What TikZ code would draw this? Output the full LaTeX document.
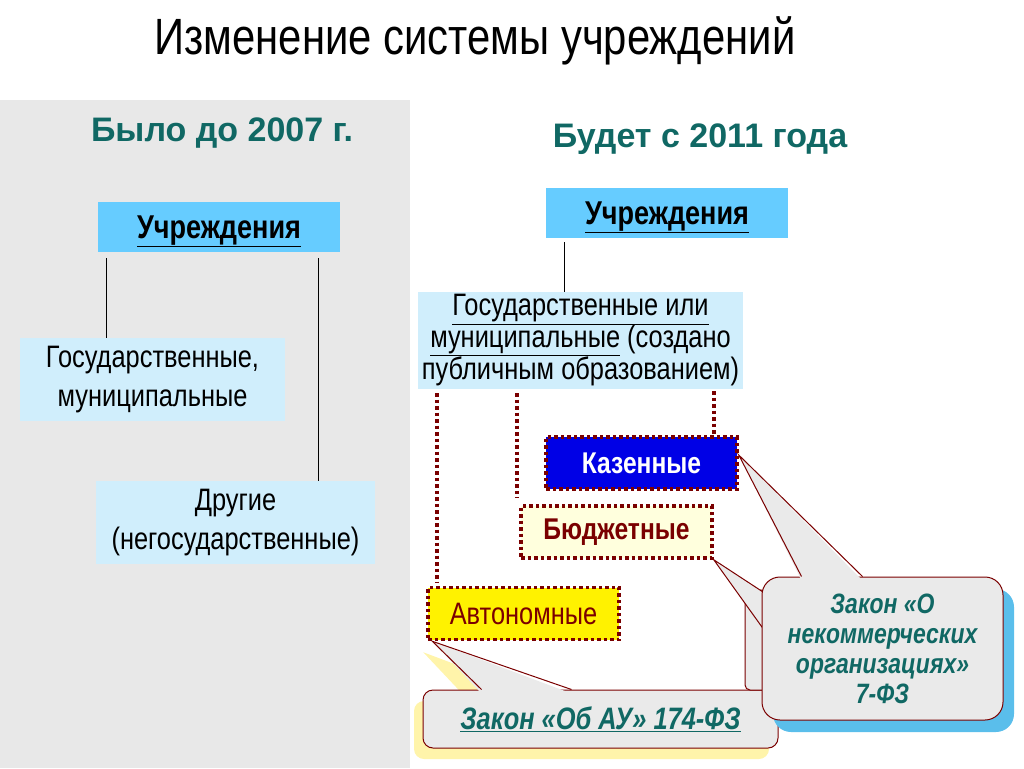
\documentclass[tikz,border=0pt]{standalone}
\usepackage{fontspec}
\setmainfont{Liberation Sans}
\newfontfamily\narrowsans{Liberation Sans}[FakeStretch=0.82]
\usetikzlibrary{positioning,shadows,calc}
\pgfdeclarelayer{background}
\pgfsetlayers{background,main}

\definecolor{panelgray}{RGB}{232,232,232}
\definecolor{headblue}{RGB}{102,204,255}
\definecolor{boxblue}{RGB}{208,238,252}
\definecolor{maroon}{RGB}{122,0,0}
\definecolor{tealtext}{RGB}{16,104,100}
\definecolor{calloutgray}{RGB}{234,234,234}
\definecolor{shadowyellow}{RGB}{255,244,170}
\definecolor{shadowblue}{RGB}{90,190,235}
\definecolor{kazblue}{RGB}{0,0,230}
\definecolor{budcream}{RGB}{255,255,221}

\tikzset{
  headbox/.style={fill=headblue, minimum width=242pt, minimum height=50pt, inner sep=0pt, text depth=0pt,
    font=\narrowsans\bfseries\fontsize{33}{38}\selectfont},
  kindbox/.style={fill=boxblue, inner sep=0pt, align=center,
    font=\narrowsans\fontsize{31}{39}\selectfont},
  typebox/.style={draw=maroon, line width=3.5pt, dash pattern=on 3.5pt off 3pt,
    minimum width=191pt, minimum height=52pt, inner sep=0pt},
  dotline/.style={draw=maroon, line width=3.5pt, dash pattern=on 3.5pt off 3pt},
  treeline/.style={draw=black, line width=1.2pt},
  callout/.style={draw=maroon, line width=1pt, fill=calloutgray, inner sep=0pt, align=center,
    text=tealtext, font=\narrowsans\bfseries\itshape\fontsize{28}{30}\selectfont},
  pointer/.style={draw=maroon, line width=1pt},
}

\begin{document}
\begin{tikzpicture}[x=1pt, y=-1pt]
  %%%%% START %%%%%
  \useasboundingbox (0,0) rectangle (1024,768);
  \fill[panelgray] (0,100) rectangle (410,768);

  % title
  \node[anchor=base, font=\narrowsans\fontsize{51}{56}\selectfont] (title) at (475,55) {Изменение системы учреждений};

  \node[anchor=base, text=tealtext, font=\bfseries\fontsize{34}{40}\selectfont] (before) at (222,141) {Было до 2007 г.};
  \node[anchor=base, text=tealtext, font=\bfseries\fontsize{34}{40}\selectfont] (after) at (700,147) {Будет с 2011 года};

  % before 2007
  \node[headbox] (lhead) at (219,227) {\underline{Учреждения}};
  \node[kindbox, minimum width=265pt, minimum height=83pt] (lgov) at (152.5,379.5) {Государственные,\\муниципальные};
  \node[kindbox, minimum width=279pt, minimum height=83pt] (loth) at (235.5,522.5) {Другие\\(негосударственные)};

  \draw[treeline] ([xshift=9pt,yshift=-6pt]lhead.south west) -- ([xshift=9pt]lhead.south west |- lgov.north);
  \draw[treeline] ([xshift=-22pt,yshift=-6pt]lhead.south east) -- ([xshift=-22pt]lhead.south east |- loth.north);

  % from 2011
  \node[headbox] (rhead) at (667,213) {\underline{Учреждения}};
  \node[kindbox, minimum width=325pt, minimum height=97pt, font=\narrowsans\fontsize{31}{29}\selectfont] (rgov) at (580.5,340.5)
    {\underline{Государственные или}\\\underline{муниципальные} (создано\\публичным образованием)};
  \draw[treeline] ([xshift=19pt,yshift=-4pt]rhead.south west) -- ([xshift=19pt]rhead.south west |- rgov.north);

  \node[typebox, fill=kazblue, text=white, font=\narrowsans\bfseries\fontsize{30}{36}\selectfont] (kaz) at (641.5,463) {Казенные};
  \node[typebox, fill=budcream, text=maroon, font=\narrowsans\bfseries\fontsize{30}{36}\selectfont] (bud) at (616.5,532) {Бюджетные};
  \node[typebox, fill=yellow, text=maroon, font=\narrowsans\fontsize{31}{36}\selectfont] (avt) at (523.5,613.5) {Автономные};

  \draw[dotline] ([xshift=19pt,yshift=-4pt]rgov.south west) -- ([xshift=19pt,yshift=4pt]rgov.south west |- avt.north);
  \draw[dotline] ([xshift=99pt,yshift=-4pt]rgov.south west) -- ([xshift=99pt,yshift=6pt]rgov.south west |- bud.north);
  \draw[dotline] ([xshift=-29pt,yshift=-2pt]rgov.south east) -- ([xshift=-29pt]rgov.south east |- kaz.north);

  % law on autonomous institutions
  \node[callout, rounded corners=10pt, minimum width=355pt, minimum height=58pt, font=\narrowsans\bfseries\itshape\fontsize{31}{34}\selectfont,
    general shadow={fill=shadowyellow, shadow xshift=-9pt, shadow yshift=-11pt}] (au) at (600.5,719) {\underline{Закон «Об АУ» 174-ФЗ}};
  \coordinate (auptr) at ([xshift=6pt]avt.south west);
  \begin{pgfonlayer}{background}
    \fill[shadowyellow] ([xshift=-9pt,yshift=-11pt]auptr) -- ([xshift=50pt,yshift=-15pt]au.north west) -- ([xshift=140pt,yshift=-15pt]au.north west) -- cycle;
  \end{pgfonlayer}
  \fill[calloutgray] (auptr) -- ([xshift=59pt,yshift=-4pt]au.north west) -- ([xshift=149pt,yshift=-4pt]au.north west) -- cycle;
  \draw[pointer] ([xshift=59pt]au.north west) -- (auptr) -- ([xshift=149pt]au.north west);

  % law on non-commercial organisations
  \node[callout, rounded corners=5pt, minimum width=245pt, minimum height=100pt] (nkoback) at (867.5,640) {};
  \fill[calloutgray] (bud.south east) -- ([xshift=30pt,yshift=-10pt]nkoback.north west) -- ([xshift=30pt,yshift=-55pt]nkoback.north west) -- cycle;
  \draw[pointer] ([xshift=30pt,yshift=-10pt]nkoback.north west) -- (bud.south east) -- ([xshift=30pt,yshift=-55pt]nkoback.north west);

  \node[callout, rounded corners=18pt, minimum width=241pt, minimum height=143pt,
    general shadow={fill=shadowblue, shadow xshift=11pt, shadow yshift=-12pt}] (nko) at (882.5,648.5)
    {Закон «О\\некоммерческих\\организациях»\\7-ФЗ};
  \coordinate (kazptr) at ([yshift=8pt]kaz.east);
  \fill[calloutgray] (kazptr) -- ([xshift=40pt,yshift=-4pt]nko.north west) -- ([xshift=101pt,yshift=-4pt]nko.north west) -- cycle;
  \draw[pointer] ([xshift=40pt]nko.north west) -- (kazptr) -- ([xshift=101pt]nko.north west);
  %%%%% END %%%%%
\end{tikzpicture}
\end{document}
